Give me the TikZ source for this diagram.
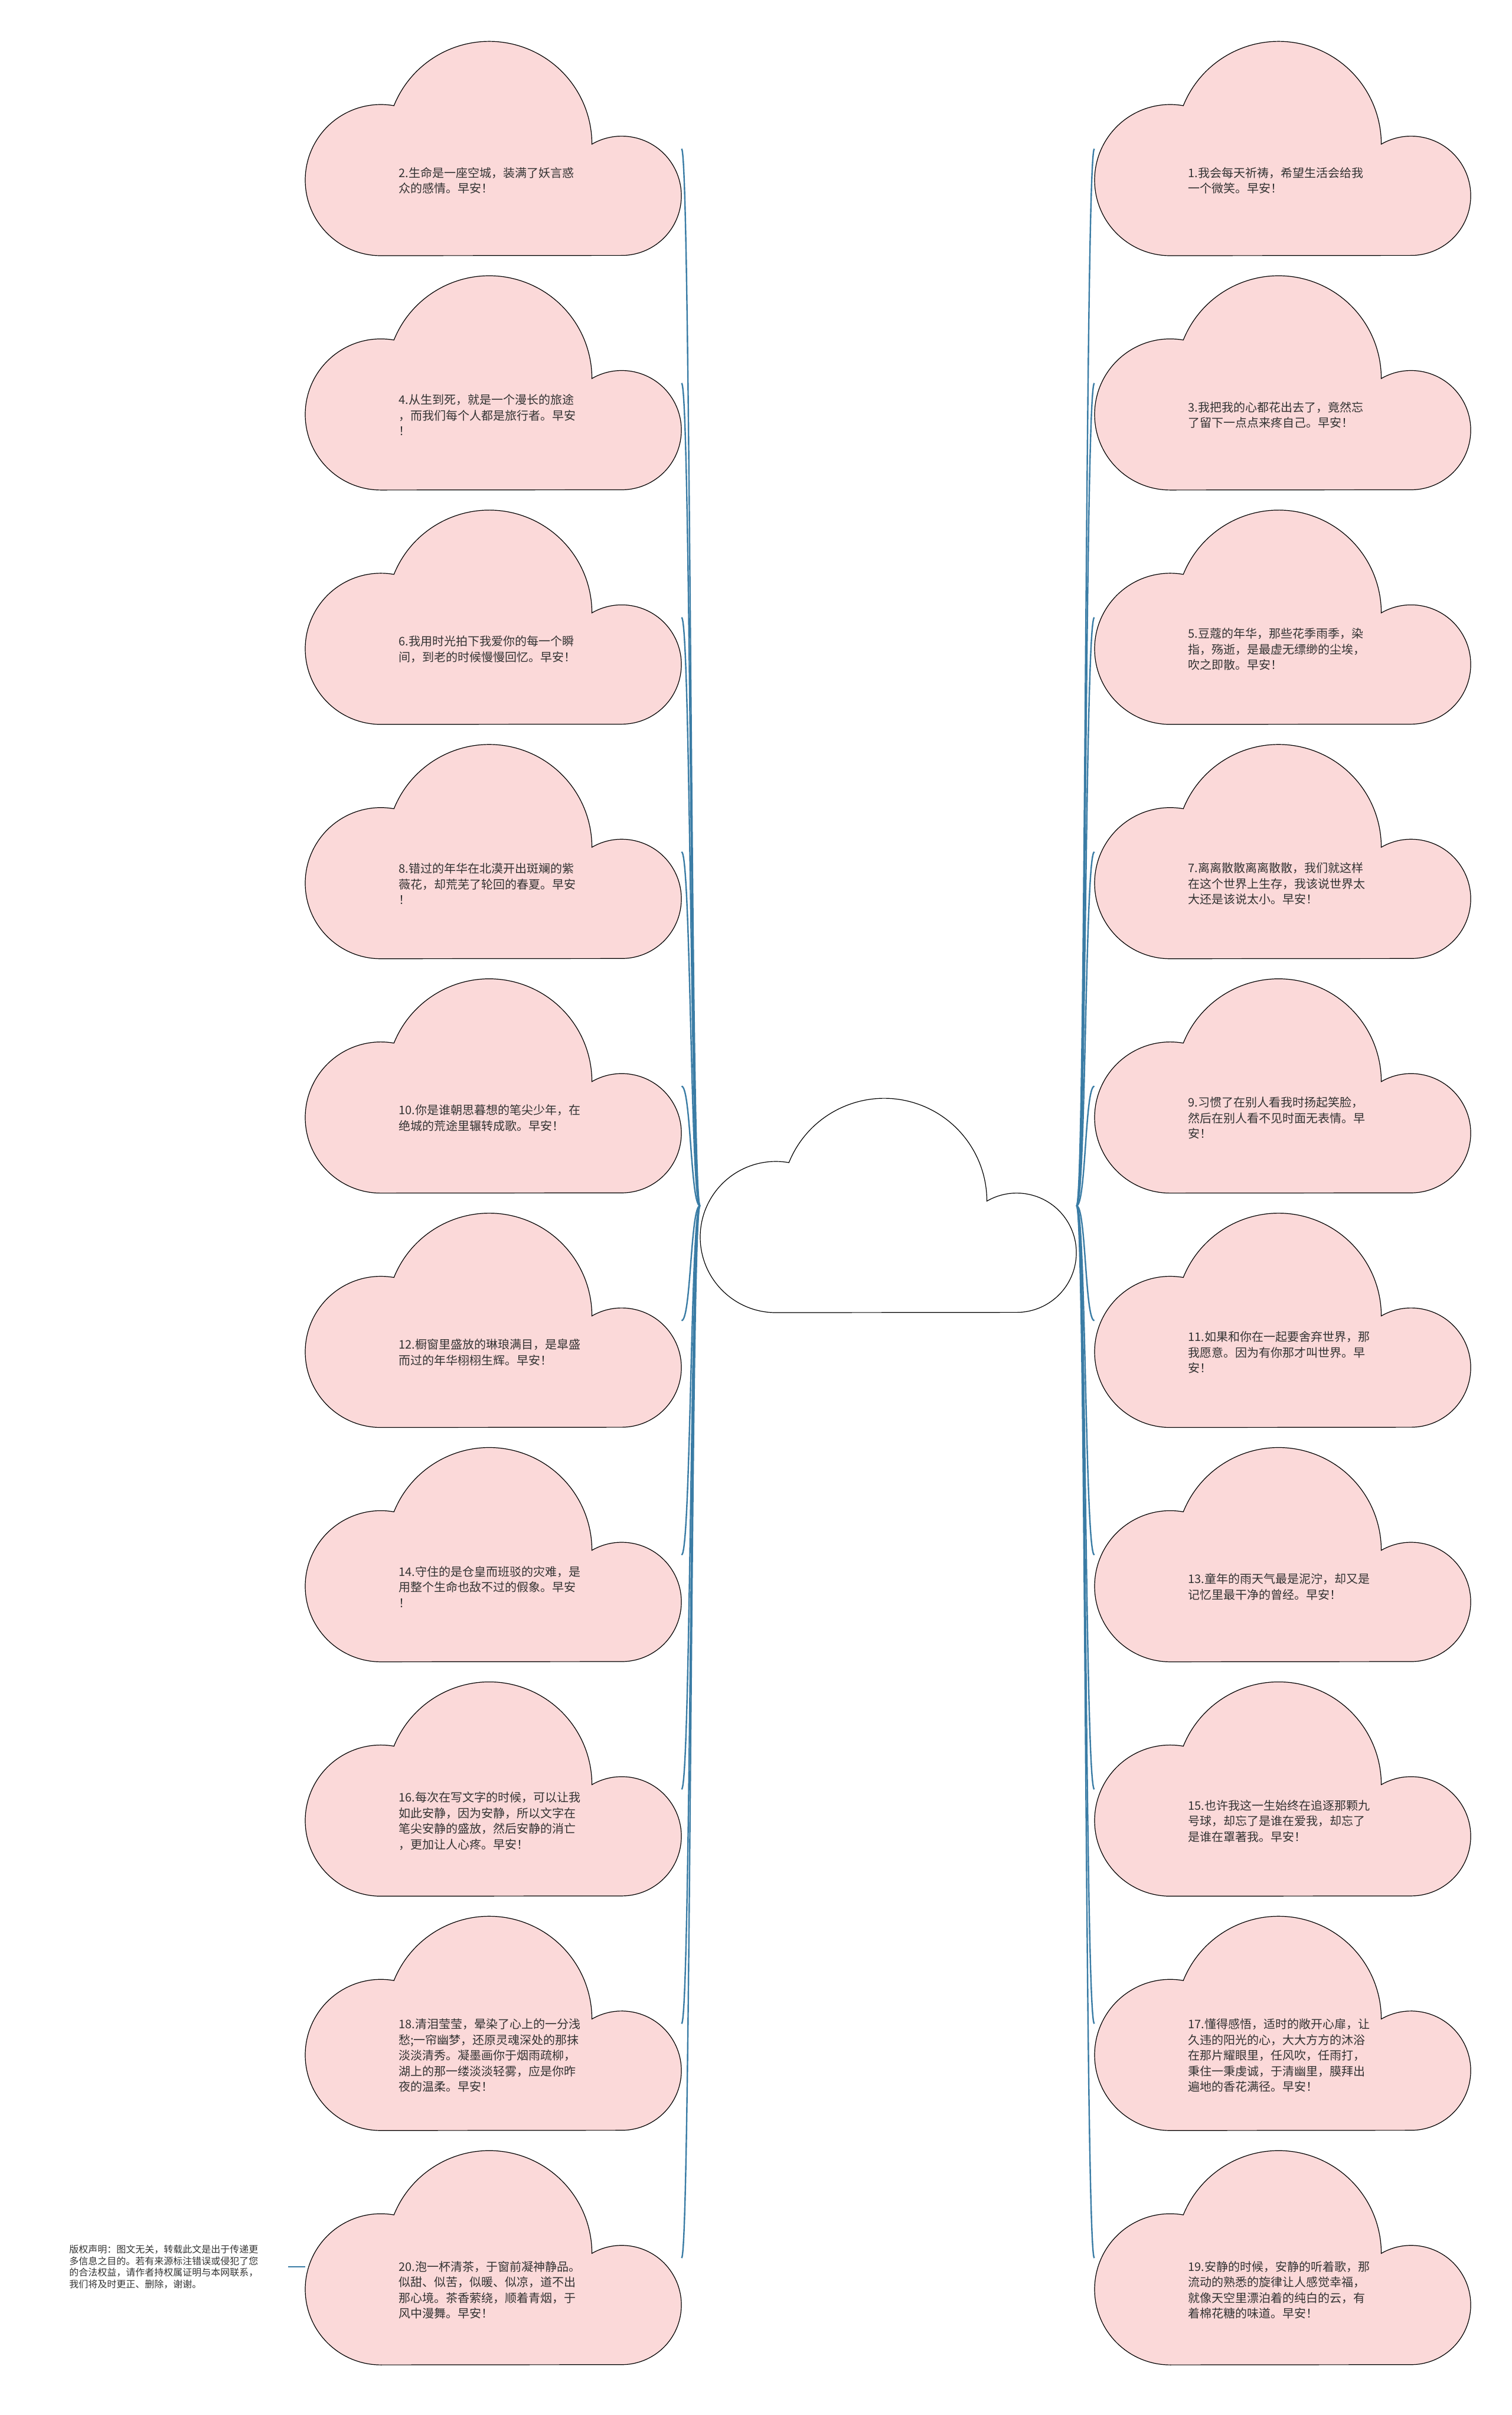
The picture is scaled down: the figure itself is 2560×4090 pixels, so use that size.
\documentclass[tikz,border=0pt]{standalone}
\usepackage{fontspec}
\setmainfont{Noto Sans CJK SC}
\definecolor{cloudpink}{HTML}{FBD9D9}
\definecolor{linkblue}{HTML}{3A7CA5}
\definecolor{txtgray}{HTML}{333333}

% cloud: [fill] name, left, top, text
\newcommand{\saycloud}[5][cloudpink]{%
  \path[cloudline, fill=#1, shift={(#3,#4)}] (128,362)
    arc[start angle=-270, end angle=-80, radius=128]
    arc[start angle=-158, end angle=0, radius=174]
    arc[start angle=-120, end angle=90, radius=101] -- cycle;
  \node[cloudbox] (#2) at (#3+318.5,#4+181) {};
  \node[cloudtext] (#2txt) at (#3+158,#4+235) {#5};
}

\begin{document}
\begin{tikzpicture}[x=0.5pt, y=-0.5pt,
    cloudline/.style={draw=black, line width=0.6pt},
    cloudbox/.style={minimum width=318.5pt, minimum height=181pt, inner sep=0pt},
    cloudtext/.style={anchor=west, align=left, inner sep=0pt, text=txtgray,
      font=\fontsize{10}{13.25}\selectfont},
    note/.style={anchor=west, align=left, inner sep=0pt, text width=185pt,
      text=txtgray, font=\fontsize{8}{9.75}\selectfont},
    link/.style={draw=linkblue, line width=1.2pt},
  ]
  \useasboundingbox (0,0) rectangle (2560,4090);

  % centre
  \saycloud[white]{ctr}{1186}{1861}{}

  % left column
  \saycloud{n2}{517}{71}{2.生命是一座空城，装满了妖言惑\\众的感情。早安！}
  \saycloud{n4}{517}{467.9}{4.从生到死，就是一个漫长的旅途\\，而我们每个人都是旅行者。早安\\！}
  \saycloud{n6}{517}{864.8}{6.我用时光拍下我爱你的每一个瞬\\间，到老的时候慢慢回忆。早安！}
  \saycloud{n8}{517}{1261.7}{8.错过的年华在北漠开出斑斓的紫\\薇花，却荒芜了轮回的春夏。早安\\！}
  \saycloud{n10}{517}{1658.6}{10.你是谁朝思暮想的笔尖少年，在\\绝城的荒途里辗转成歌。早安！}
  \saycloud{n12}{517}{2055.5}{12.橱窗里盛放的琳琅满目，是皐盛\\而过的年华栩栩生辉。早安！}
  \saycloud{n14}{517}{2452.4}{14.守住的是仓皇而班驳的灾难，是\\用整个生命也敌不过的假象。早安\\！}
  \saycloud{n16}{517}{2849.3}{16.每次在写文字的时候，可以让我\\如此安静，因为安静，所以文字在\\笔尖安静的盛放，然后安静的消亡\\，更加让人心疼。早安！}
  \saycloud{n18}{517}{3246.2}{18.清泪莹莹，晕染了心上的一分浅\\愁;一帘幽梦，还原灵魂深处的那抹\\淡淡清秀。凝墨画你于烟雨疏柳，\\湖上的那一缕淡淡轻雾，应是你昨\\夜的温柔。早安！}
  \saycloud{n20}{517}{3643.1}{20.泡一杯清茶，于窗前凝神静品。\\似甜、似苦，似暖、似凉，道不出\\那心境。茶香萦绕，顺着青烟，于\\风中漫舞。早安！}

  % right column
  \saycloud{n1}{1854}{71}{1.我会每天祈祷，希望生活会给我\\一个微笑。早安！}
  \saycloud{n3}{1854}{467.9}{3.我把我的心都花出去了，竟然忘\\了留下一点点来疼自己。早安！}
  \saycloud{n5}{1854}{864.8}{5.豆蔻的年华，那些花季雨季，染\\指，殇逝，是最虚无缥缈的尘埃，\\吹之即散。早安！}
  \saycloud{n7}{1854}{1261.7}{7.离离散散离离散散，我们就这样\\在这个世界上生存，我该说世界太\\大还是该说太小。早安！}
  \saycloud{n9}{1854}{1658.6}{9.习惯了在别人看我时扬起笑脸，\\然后在别人看不见时面无表情。早\\安！}
  \saycloud{n11}{1854}{2055.5}{11.如果和你在一起要舍弃世界，那\\我愿意。因为有你那才叫世界。早\\安！}
  \saycloud{n13}{1854}{2452.4}{13.童年的雨天气最是泥泞，却又是\\记忆里最干净的曾经。早安！}
  \saycloud{n15}{1854}{2849.3}{15.也许我这一生始终在追逐那颗九\\号球，却忘了是谁在爱我，却忘了\\是谁在罩著我。早安！}
  \saycloud{n17}{1854}{3246.2}{17.懂得感悟，适时的敞开心扉，让\\久违的阳光的心，大大方方的沐浴\\在那片耀眼里，任风吹，任雨打，\\秉住一秉虔诚，于清幽里，膜拜出\\遍地的香花满径。早安！}
  \saycloud{n19}{1854}{3643.1}{19.安静的时候，安静的听着歌，那\\流动的熟悉的旋律让人感觉幸福，\\就像天空里漂泊着的纯白的云，有\\着棉花糖的味道。早安！}

  % disclaimer
  \node[note] (note) at (117,3839) {版权声明：图文无关，转载此文是出于传递更\\多信息之目的。若有来源标注错误或侵犯了您\\的合法权益，请作者持权属证明与本网联系，\\我们将及时更正、删除，谢谢。};

  % links to the left
  \draw[link] (ctr.west) .. controls +(-16,0) and +(16,0) .. (n2.east);
  \draw[link] (ctr.west) .. controls +(-16,0) and +(16,0) .. (n4.east);
  \draw[link] (ctr.west) .. controls +(-16,0) and +(16,0) .. (n6.east);
  \draw[link] (ctr.west) .. controls +(-16,0) and +(16,0) .. (n8.east);
  \draw[link] (ctr.west) .. controls +(-16,0) and +(16,0) .. (n10.east);
  \draw[link] (ctr.west) .. controls +(-16,0) and +(16,0) .. (n12.east);
  \draw[link] (ctr.west) .. controls +(-16,0) and +(16,0) .. (n14.east);
  \draw[link] (ctr.west) .. controls +(-16,0) and +(16,0) .. (n16.east);
  \draw[link] (ctr.west) .. controls +(-16,0) and +(16,0) .. (n18.east);
  \draw[link] (ctr.west) .. controls +(-16,0) and +(16,0) .. (n20.east);

  % links to the right
  \draw[link] (ctr.east) .. controls +(16,0) and +(-16,0) .. (n1.west);
  \draw[link] (ctr.east) .. controls +(16,0) and +(-16,0) .. (n3.west);
  \draw[link] (ctr.east) .. controls +(16,0) and +(-16,0) .. (n5.west);
  \draw[link] (ctr.east) .. controls +(16,0) and +(-16,0) .. (n7.west);
  \draw[link] (ctr.east) .. controls +(16,0) and +(-16,0) .. (n9.west);
  \draw[link] (ctr.east) .. controls +(16,0) and +(-16,0) .. (n11.west);
  \draw[link] (ctr.east) .. controls +(16,0) and +(-16,0) .. (n13.west);
  \draw[link] (ctr.east) .. controls +(16,0) and +(-16,0) .. (n15.west);
  \draw[link] (ctr.east) .. controls +(16,0) and +(-16,0) .. (n17.west);
  \draw[link] (ctr.east) .. controls +(16,0) and +(-16,0) .. (n19.west);

  \draw[link] (note.east) -- (note.east -| n20.west);
\end{tikzpicture}
\end{document}
